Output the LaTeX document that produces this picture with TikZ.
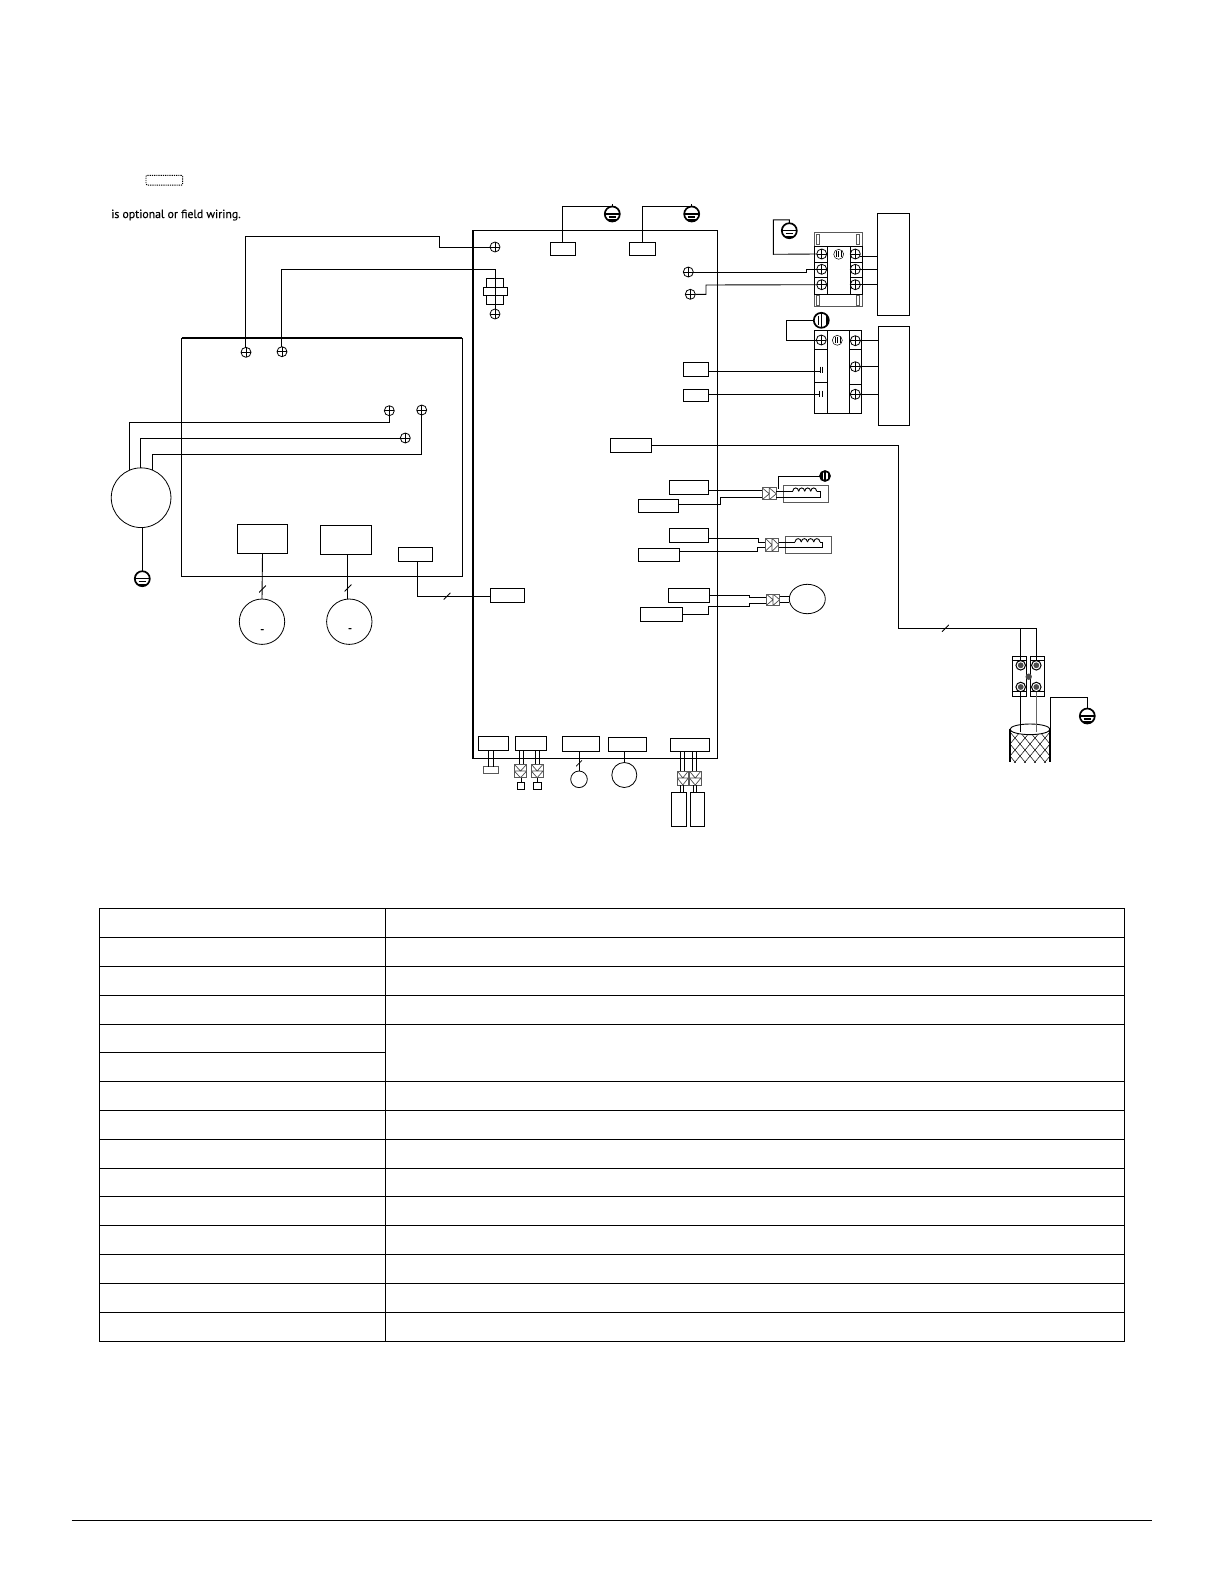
\documentclass[tikz,border=0pt]{standalone}
\usepackage{fontspec}
\setmainfont{PT Sans}
\newfontfamily\notefont[FakeBold=0.25]{PT Sans}
\usetikzlibrary{positioning, calc, shapes.geometric}

\newcommand{\pb}{path picture bounding box}
\newcommand{\coilat}[3]{\foreach \x in {0,1,2,3} \draw[wire] (#1+\x*#3,#2) .. controls (#1+\x*#3+.5,#2-4.5) and (#1+\x*#3+#3-.5,#2-4.5) .. (#1+\x*#3+#3,#2);}

\tikzset{
  wire/.style={line width=.9pt, black},
  box/.style 2 args={draw, line width=.9pt, inner sep=0, outer sep=0, minimum width=#1, minimum height=#2},
  gbox/.style 2 args={box={#1}{#2}, draw=black!65, line width=1pt},
  screw/.style={draw, circle, line width=.8pt, inner sep=0, outer sep=0, minimum size=10,
    path picture={\draw[line width=.7pt] (\pb.north) -- (\pb.south) (\pb.west) -- (\pb.east);}},
  bolt/.style={draw, circle, line width=1pt, inner sep=0, outer sep=0, minimum size=9.5,
    path picture={\fill[black!70] (\pb.center) circle[radius=2.9];}},
  gnd/.style={draw, circle, line width=1.7pt, inner sep=0, outer sep=0, minimum size=#1,
    path picture={
      \draw[line width=1.2pt] (\pb.west) -- (\pb.east);
      \draw[line width=1.2pt] ($(\pb.center)!.5!(\pb.west)+(0,3)$) -- ($(\pb.center)!.5!(\pb.east)+(0,3)$);
      \draw[line width=3pt] ($(\pb.south west)+(0,-1)$) -- ($(\pb.south east)+(0,-1)$);}},
  gnd/.default=15,
  gndv/.style={draw, circle, line width=1.7pt, inner sep=0, outer sep=0, minimum size=#1,
    path picture={
      \draw[line width=1.2pt] (\pb.north) -- (\pb.south);
      \draw[line width=1.2pt] ($(\pb.center)!.6!(\pb.north)+(-3,0)$) -- ($(\pb.center)!.6!(\pb.south)+(-3,0)$);
      \draw[line width=3pt] ($(\pb.north east)+(-1,0)$) -- ($(\pb.south east)+(-1,0)$);}},
  gndv/.default=15,
  earth/.style={draw, circle, line width=.5pt, inner sep=0, outer sep=0, minimum size=10,
    path picture={
      \draw[line width=.6pt] ($(\pb.center)+(-2.5,-3)$) -- ($(\pb.center)+(-2.5,3)$);
      \draw[line width=.6pt] ($(\pb.center)+(0,-3)$) -- ($(\pb.center)+(0,3)$);
      \draw[line width=.6pt] ($(\pb.center)+(2.5,-3)$) -- ($(\pb.center)+(2.5,3)$);}},
  plugh/.style 2 args={gbox={#1}{#2},
    path picture={\draw[line width=.7pt, black!70] (\pb.north west) -- (\pb.center) -- (\pb.south west)
      (\pb.north) -- (\pb.east) -- (\pb.south) (\pb.north) -- (\pb.south);}},
  plugv/.style 2 args={gbox={#1}{#2},
    path picture={\draw[line width=.7pt, black!70] (\pb.north west) -- (\pb.center) -- (\pb.north east)
      (\pb.west) -- (\pb.south) -- (\pb.east) (\pb.west) -- (\pb.east);}},
  slashmk/.style={inner sep=0, outer sep=0, minimum size=7,
    path picture={\draw[line width=.8pt] (\pb.south west) -- (\pb.north east);}},
  round/.style={draw, circle, line width=.8pt, inner sep=0, outer sep=0, minimum size=#1}
}

\begin{document}
\begin{tikzpicture}[x=1pt, y=-1pt]
  \useasboundingbox (0,0) rectangle (1224,1584);

  \node[draw, rounded corners=1pt, dashed, dash pattern=on 1.2pt off 1pt, line width=.9pt, inner sep=0, minimum width=36.7, minimum height=9.7] (legend) at (164.3,180.2) {};
  \node[anchor=base west, inner sep=0, font=\notefont\fontsize{11.8}{14}\selectfont] (note) at (111,218) {is optional or field wiring.};

  \node[box={244.6}{528}] (board) at (595,494.3) {};
  \draw[line width=1.8pt] (board.north west) -- (board.south west);
  \node[box={280.6}{238.3}] (frame) at (322,457.15) {};
  \draw[line width=1.8pt] (frame.north west) -- (frame.north east);

  \node[box={25.4}{13}] (cnA) at (563,248.8) {};
  \node[box={26.4}{13}] (cnB) at (642.5,248.8) {};
  \node[gnd] (gndA) at (612.3,214) {};
  \node[gnd] (gndB) at (691.7,214) {};
  \draw[wire] (cnA.north -| 562.3,0) |- (gndA.north);
  \draw[wire] (cnB.north -| 642.3,0) |- (gndB.north);
  \draw[wire] (gndA.north) -- ++(0,-2.3);
  \draw[wire] (gndB.north) -- ++(0,-2.3);

  \node[screw] (scrA) at (495,247) {};
  \node[screw] (scrC) at (495,314) {};
  \node[screw] (scrD) at (246,352.3) {};
  \node[screw] (scrE) at (282,351.7) {};
  \node[screw] (scrF) at (688.3,272) {};
  \node[screw] (scrG) at (690.3,294.3) {};
  \node[box={17.4}{26.4}] (ferA) at (495,291.5) {};
  \node[box={24.4}{8.4}, fill=white] (ferB) at (495.5,291.5) {};
  \draw[wire] (scrD.north -| 245.3,0) |- (439.3,236.3) |- (scrA.west);
  \draw[wire] (scrE.north -| 281.3,0) |- (495.3,269) -- (scrC.north -| 495.3,0);

  \node[screw] (scrH) at (389.3,410.7) {};
  \node[screw] (scrI) at (421.7,410) {};
  \node[screw] (scrJ) at (405.3,438) {};
  \node[round=59.7] (motor) at (141.1,497.7) {};
  \node[gnd] (gndM) at (142.3,578.7) {};
  \draw[wire] (motor.113) |- (389.3,422.3) -- (scrH.south);
  \draw[wire] (motor.91) |- (scrJ.west);
  \draw[wire] (motor.67) |- (421.7,454) -- (scrI.south);
  \draw[wire] (motor.south -| gndM.north) -- (gndM.north);

  \node[box={50.4}{29}] (drvA) at (262.5,538.8) {};
  \node[box={51.4}{29}] (drvB) at (346,539.8) {};
  \node[box={34.4}{14.4}] (cnM) at (415.5,554.5) {};
  \node[box={34}{14}] (cnL) at (507.3,595.3) {};
  \node[round=45.4] (fanA) at (262,621.7) {};
  \node[round=45.4] (fanB) at (349.3,621.7) {};
  \node[inner sep=0, font=\notefont\fontsize{11}{12}\selectfont] (dashA) at (262.3,631) {-};
  \node[inner sep=0, font=\notefont\fontsize{11}{12}\selectfont] (dashB) at (350,630) {-};
  \draw[wire] (drvA.south) -- (fanA.north);
  \draw[wire] (drvB.south -| 347.7,0) -- (fanB.north -| 347.7,0);
  \draw[wire] (cnM.south -| 417.3,0) |- (cnL.west |- 0,596.3);
  \node[slashmk] (slA) at (262.5,589) {};
  \node[slashmk] (slB) at (348,588) {};
  \node[slashmk] (slC) at (447,596.3) {};

  % right hand terminal blocks
  \node[gbox={47.7}{74.4}] (tbA) at (838.15,269.5) {};
  \node[box={13}{47.3}] (tbAl) at (820.8,270.35) {};
  \node[box={12}{47.3}] (tbAr) at (856,270.35) {};
  \draw[wire] (tbAl.north east) -- (tbAr.north west) (tbAl.south east) -- (tbAr.south west);
  \foreach \y in {262.7,277.3} \draw[wire] (tbAl.west |- 0,\y) -- (tbAl.east |- 0,\y) (tbAr.west |- 0,\y) -- (tbAr.east |- 0,\y);
  \foreach \x/\y/\n in {817.7/239.6/a, 858.3/239.6/b, 817.7/300.6/c, 858.3/300.6/d}
    \node[gbox={3.3}{9.3}] (slot\n) at (\x,\y) {};
  \foreach \y/\n in {254/a, 269.3/b, 284.7/c} {
    \node[screw] (tAl\n) at (821.7,\y) {};
    \node[screw] (tAr\n) at (855.3,\y) {};
  }
  \node[earth] (earthA) at (838.7,254.3) {};
  \node[box={32}{102}] (loadA) at (893.3,264.3) {};
  \draw[wire] (tAra.east |- 0,256.7) -- (loadA.west |- 0,256.7);
  \draw[wire] (tArb.east) -- (loadA.west |- tArb);
  \draw[wire] (tArc.east) -- (loadA.west |- tArc);
  \node[gnd] (gndC) at (789.3,230.7) {};
  \draw[wire] (gndC.north) -- ++(0,-3.3) -| (773.3,254.3) -- (tAla.west);
  \draw[wire] (scrF.east) -- (806.7,272) -- (806.7,269.3) -- (tAlb.west);
  \draw[wire] (scrG.east) -- (706,294.3) -- (706,285) -- (tAlc.west);

  \node[box={47.4}{83}] (tbB) at (838,371.8) {};
  \node[box={21.6}{83}] (tbBm) at (838.5,371.8) {};
  \draw[wire] (tbB.west |- 0,349.3) -- (tbBm.west |- 0,349.3) (tbB.west |- 0,382.3) -- (tbBm.west |- 0,382.3);
  \draw[wire] (tbBm.east |- 0,349.3) -- (tbB.east |- 0,349.3) (tbBm.east |- 0,384.3) -- (tbB.east |- 0,384.3);
  \node[screw] (tBla) at (821.3,340) {};
  \foreach \y/\n in {340.7/a, 366.7/b, 394.3/c}
    \node[screw] (tBr\n) at (855.3,\y) {};
  \node[earth] (earthB) at (837.3,340.3) {};
  \node[box={31}{99.4}] (loadB) at (893.8,376) {};
  \foreach \n in {a,b,c} \draw[wire] (tBr\n.east) -- (loadB.west |- tBr\n);
  \node[gndv] (gndE) at (821.3,320.3) {};
  \draw[wire] (gndE.west) -| (786.7,340) -- (tBla.west);
  \node[box={25}{14}] (cnC) at (695.5,369.6) {};
  \node[box={25}{12}] (cnD) at (695.5,395) {};
  \draw[wire] (cnC.east |- 0,371.3) -- (820,371.3);
  \draw[wire] (cnD.east |- 0,394.3) -- (819,394.3);
  \draw[wire] (820,366.7) -- (820,373.3) (822.7,366.7) -- (822.7,373.3);
  \draw[wire] (819,390.7) -- (819,397.3) (822.7,390.7) -- (822.7,397.3);

  % coils and valve on the right of the board
  \node[box={39.4}{14}] (cnF) at (689,487.3) {};
  \node[box={40.4}{13}] (cnG) at (658.5,505.8) {};
  \node[plugh={14}{11.7}] (plugA) at (769.3,493.8) {};
  \node[gbox={45.3}{16.6}] (coilA) at (805.7,494) {};
  \node[gndv=10] (gndF) at (825,476) {};
  \draw[wire] (cnF.east |- 0,490.3) -- (plugA.west |- 0,490.3);
  \draw[wire] (cnG.east |- 0,504.7) -- (720.3,504.7) -- (720.3,497.3) -- (plugA.west |- 0,497.3);
  \draw[wire] (plugA.east |- 0,491.3) -- (792.7,491.3);
  \coilat{792.7}{491.3}{6}
  \draw[wire] (816.7,491.3) -- (820,491.3) -- (820,497.3) -- (plugA.east |- 0,497.3);
  \draw[wire] (gndF.west) -| (778.3,488.5);

  \node[box={39.4}{14}] (cnH) at (689,535.3) {};
  \node[box={41.4}{13}] (cnI) at (659,554.8) {};
  \node[plugh={13.4}{13}] (plugB) at (772,544.8) {};
  \node[gbox={46}{17}] (coilB) at (808.3,544.8) {};
  \draw[wire] (cnH.east |- 0,538) -- (758.3,538) -- (758.3,542) -- (plugB.west |- 0,542);
  \draw[wire] (cnI.east |- 0,551.3) -- (757.3,551.3) -- (757.3,547.3) -- (plugB.west |- 0,547.3);
  \draw[wire] (plugB.east |- 0,542) -- (795,542);
  \coilat{795}{542}{6.25}
  \draw[wire] (820,542) -- (822.7,542) -- (822.7,547.3) -- (plugB.east |- 0,547.3);

  \node[box={41.4}{14}] (cnJ) at (689,595.3) {};
  \node[box={42.4}{13.7}] (cnK) at (661.5,614.2) {};
  \node[plugh={13.4}{11.3}] (plugC) at (773,599.7) {};
  \node[draw, ellipse, line width=.8pt, inner sep=0, outer sep=0, minimum width=36, minimum height=29.4] (valve) at (807.3,599) {};
  \draw[wire] (cnJ.east |- 0,595.3) -- (749.3,595.3) -- (749.3,597.3) -- (plugC.west |- 0,597.3);
  \draw[wire] (cnK.east |- 0,614) -- (708.7,614) -- (708.7,606.7) -- (749,606.7) -- (749,603.3) -- (plugC.west |- 0,603.3);
  \draw[wire] (plugC.east |- 0,596.7) -- (valve.west |- 0,596.7);
  \draw[wire] (plugC.east |- 0,602) -- (valve.west |- 0,602);

  % connectors along the bottom of the board
  \node[box={30}{14}] (bA) at (493.3,743.3) {};
  \node[gbox={14.6}{6.6}] (bAs) at (491,770) {};
  \draw[wire] (bA.south -| 488.3,0) -- (bAs.north -| 488.3,0);
  \draw[wire] (bA.south -| 493.7,0) -- (bAs.north -| 493.7,0);
  \node[box={31.4}{14}] (bB) at (531,743.3) {};
  \node[plugv={12.4}{13.4}] (plugD) at (520.5,771) {};
  \node[plugv={11.7}{13.4}] (plugE) at (537.2,771) {};
  \node[box={7.4}{7.4}] (sqA) at (521,786) {};
  \node[box={7.4}{7.4}] (sqB) at (537.3,786) {};
  \foreach \x in {519.3,523.3} \draw[wire] (bB.south -| \x,0) -- (plugD.north -| \x,0);
  \foreach \x in {535.3,539.3} \draw[wire] (bB.south -| \x,0) -- (plugE.north -| \x,0);
  \draw[wire] (plugD.south -| sqA.north) -- (sqA.north);
  \draw[wire] (plugE.south -| sqB.north) -- (sqB.north);
  \node[box={37.4}{15}] (bC) at (581,743.8) {};
  \node[round=16.6] (senA) at (579,779.3) {};
  \draw[wire] (bC.south -| senA.north) -- (senA.north);
  \node[slashmk, minimum size=6] (slD) at (579,763.3) {};
  \node[box={38}{14}] (bD) at (627.7,744.3) {};
  \node[round=25] (senB) at (624.3,775) {};
  \draw[wire] (bD.south -| senB.north) -- (senB.north);
  \node[box={39}{13}] (bE) at (689.8,744.8) {};
  \node[plugv={11}{14}] (plugF) at (682.8,778) {};
  \node[plugv={11.7}{14}] (plugG) at (695.2,778) {};
  \node[box={14.6}{34}] (fuA) at (679,809) {};
  \node[box={14.4}{34}] (fuB) at (697.5,809) {};
  \foreach \x in {680.7,684.7} \draw[wire] (bE.south -| \x,0) -- (plugF.north -| \x,0);
  \foreach \x in {692.7,696.7} \draw[wire] (bE.south -| \x,0) -- (plugG.north -| \x,0);
  \foreach \x in {680,683.3} \draw[wire] (plugF.south -| \x,0) -- (fuA.north -| \x,0);
  \foreach \x in {693.3,696.7} \draw[wire] (plugG.south -| \x,0) -- (fuB.north -| \x,0);

  % signal wire and shielded cable
  \node[box={41.4}{14}] (cnE) at (631,445.3) {};
  \node[box={14.4}{40}] (tcA) at (1019.5,676.3) {};
  \node[box={14.7}{40}] (tcB) at (1037.35,676.3) {};
  \foreach \n in {tcA,tcB} \draw[wire] (\n.west |- 0,660.7) -- (\n.east |- 0,660.7) (\n.west |- 0,691.7) -- (\n.east |- 0,691.7);
  \node[bolt] (boltA) at (1020.7,665.3) {};
  \node[bolt] (boltB) at (1036.3,665.3) {};
  \node[bolt] (boltC) at (1020.7,687) {};
  \node[bolt] (boltD) at (1036.3,687) {};
  \draw[wire] (cnE.east) -- (898,445.3) |- (boltB.north |- 0,628.3) -- (boltB.north);
  \draw[wire] (boltA.north |- 0,628.3) -- (boltA.north);
  \node[slashmk] (slE) at (945.4,628.3) {};
  \node[draw, circle, fill=white, black!70, line width=.8pt, inner sep=0, minimum size=5.5] (tcM) at (1028.7,676.7) {};
  \begin{scope}
    \clip (1010,729) rectangle (1050,762);
    \foreach \d in {950,960,...,1100} {
      \draw[line width=.5pt] (\d,720) -- (\d+40,768);
      \draw[line width=.5pt] (\d+40,720) -- (\d,768);
    }
  \end{scope}
  \node[draw, ellipse, fill=white, line width=.9pt, inner sep=0, outer sep=0, minimum width=40, minimum height=10.6] (cable) at (1030,729.3) {};
  \draw[line width=1.2pt] (cable.west) -- (1010,762);
  \draw[line width=1.2pt] (cable.east) -- (1050,762);
  \draw[wire] (boltC.south) -- (1020.7,732);
  \draw[wire, black!60] (boltD.south) -- (1036.3,732);
  \node[gnd] (gndD) at (1087.3,716) {};
  \draw[wire] (gndD.north) |- (1050,697.3) -- (cable.east);

  % table and rule
  \node[box={1025}{432.6}] (tbl) at (612.2,1125) {};
  \draw[wire] (385.3,908.7) -- (385.3,1341.3);
  \foreach \y in {937.3,966.3,995.3,1024.3,1081.3,1110.2,1139.1,1168,1196.9,1225.8,1254.7,1283.6,1312.5}
    \draw[wire] (tbl.west |- 0,\y) -- (tbl.east |- 0,\y);
  \draw[wire] (tbl.west |- 0,1052.3) -- (385.3,1052.3);
  \coordinate (ruleL) at (71.7,1520.3);
  \coordinate (ruleR) at (1151.7,1520.3);
  \draw[wire] (ruleL) -- (ruleR);
\end{tikzpicture}
\end{document}
